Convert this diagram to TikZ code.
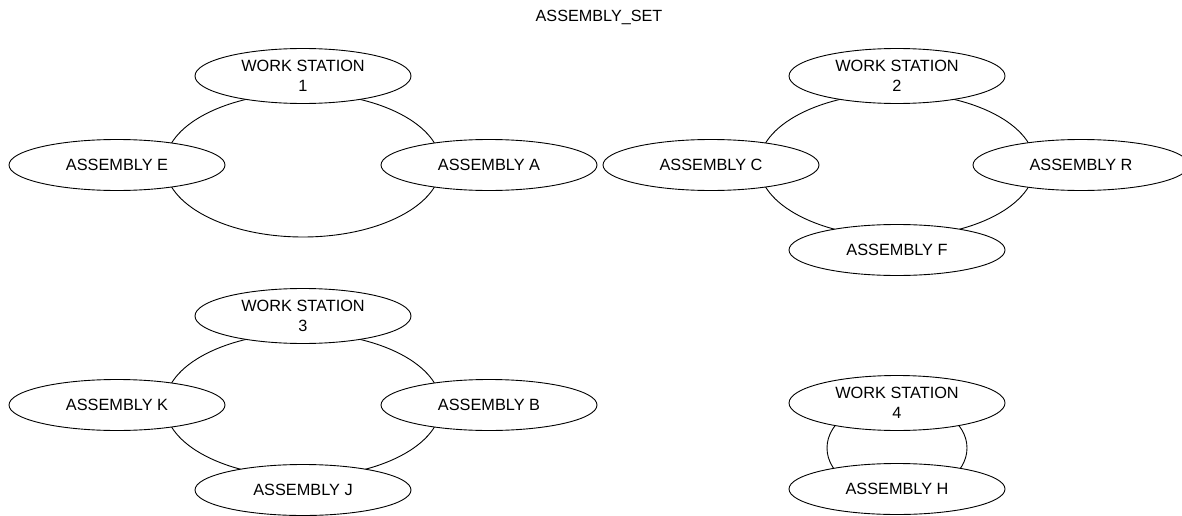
\documentclass[tikz,border=0pt]{standalone}
\usepackage{fontspec}
\setmainfont{Liberation Sans}
\usetikzlibrary{shapes.geometric}

\begin{document}
\begin{tikzpicture}[x=1pt, y=-1pt,
  part/.style={draw, ellipse, fill=white, line width=0.9pt,
               minimum width=216pt, minimum height=51pt, inner sep=0pt,
               font=\fontsize{16.3}{20}\selectfont, align=center},
  station/.style={part, minimum height=55pt},
  ring/.style={draw, ellipse, line width=0.9pt, inner sep=0pt},
  bigring/.style={ring, minimum width=276pt, minimum height=144pt},
]
  \useasboundingbox (0,0) rectangle (1182,516);

  % Title
  \node[font=\fontsize{16.2}{20}\selectfont] (title) at (599,17) {ASSEMBLY\_SET};

  % Work station 1
  \node[bigring] (ring1) at (303,165) {};
  \node[station] (ws1) at (303,76) {WORK STATION\\1};
  \node[part] (asmE) at (117,165) {ASSEMBLY E};
  \node[part] (asmA) at (489,165) {ASSEMBLY A};

  % Work station 2
  \node[bigring] (ring2) at (897,165) {};
  \node[station] (ws2) at (897,76) {WORK STATION\\2};
  \node[part] (asmC) at (711,165) {ASSEMBLY C};
  \node[part] (asmR) at (1081,165) {ASSEMBLY R};
  \node[part] (asmF) at (897,250) {ASSEMBLY F};

  % Work station 3
  \node[bigring] (ring3) at (303,405) {};
  \node[station] (ws3) at (303,316) {WORK STATION\\3};
  \node[part] (asmK) at (117,405) {ASSEMBLY K};
  \node[part] (asmB) at (489,405) {ASSEMBLY B};
  \node[part] (asmJ) at (303,490) {ASSEMBLY J};

  % Work station 4
  \node[ring, minimum width=140pt, minimum height=96pt] (ring4) at (897,448) {};
  \node[station] (ws4) at (897,403) {WORK STATION\\4};
  \node[part] (asmH) at (897,489) {ASSEMBLY H};
\end{tikzpicture}
\end{document}
